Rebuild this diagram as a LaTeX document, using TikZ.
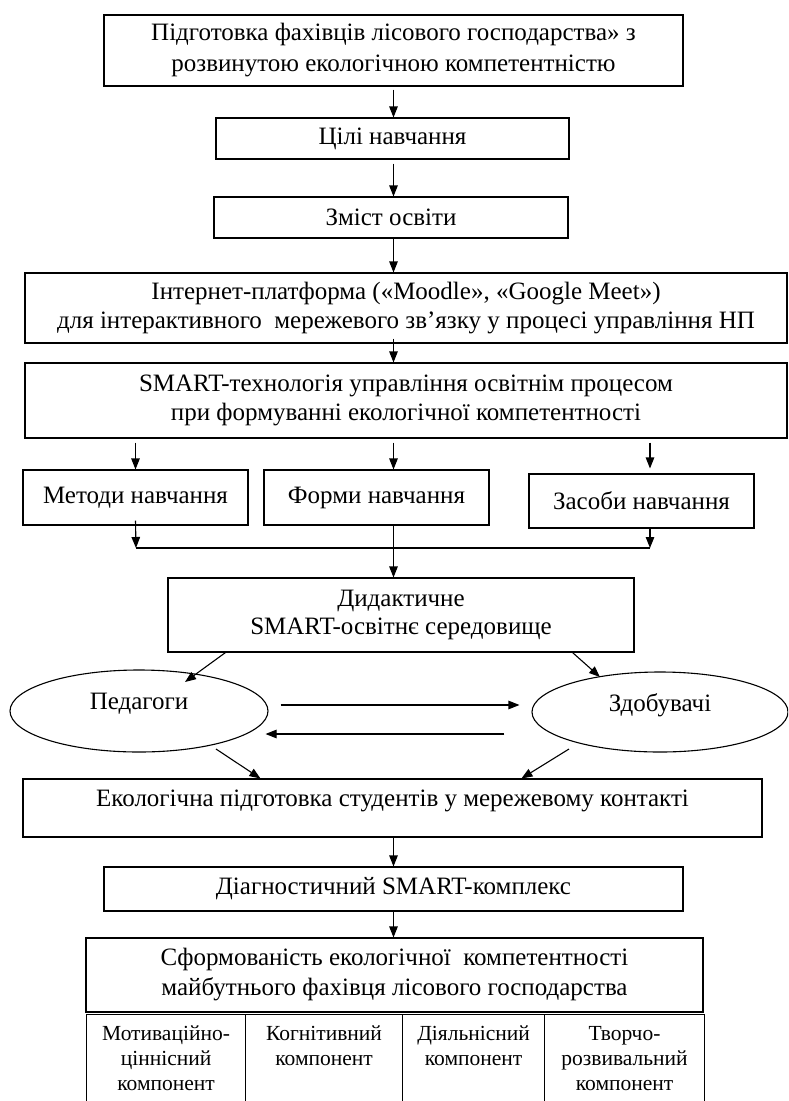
\documentclass[tikz,border=0pt]{standalone}
\usepackage{fontspec}
\setmainfont{Liberation Serif}
\usetikzlibrary{arrows.meta,calc,shapes.geometric}
\begin{document}
\begin{tikzpicture}[x=1pt,y=-1pt,
  box/.style={draw, line width=1.1pt, align=center, inner sep=0pt, font=\fontsize{25}{28.5}\selectfont},
  oval/.style={draw, ellipse, line width=1.1pt, inner sep=0pt},
  lbl/.style={font=\fontsize{25}{29}\selectfont, inner sep=0pt},
  cell/.style={draw, line width=1.1pt, inner sep=0pt, anchor=north west},
  celltext/.style={align=center, inner sep=0pt, anchor=north, font=\fontsize{21.5}{25}\selectfont},
  arr/.style={-{Triangle[length=11pt,width=8.5pt]}, line width=1.1pt}]
\useasboundingbox (0,0) rectangle (788,1101);
\clip (0,0) rectangle (788,1101);

\node[box, minimum width=579pt, minimum height=71pt, font=\fontsize{25}{31}\selectfont] (b1) at (393.5,50.5)
  {Підготовка фахівців лісового господарства» з\\розвинутою екологічною компетентністю};
\node[box, minimum width=353pt, minimum height=41pt] (b2) at (392.5,138.5) {Цілі навчання};
\node[box, minimum width=354pt, minimum height=41pt] (b3) at (391,217.5) {Зміст освіти};
\node[box, minimum width=762pt, minimum height=70pt] (b4) at (406,308)
  {Інтернет-платформа («Moodle», «Google Meet»)\\для інтерактивного\ \ мережевого зв’язку у процесі управління НП};
\node[box, minimum width=762pt, minimum height=75pt] (b5) at (406,400.5)
  {SMART-технологія управління освітнім процесом\\при формуванні екологічної компетентності};
\node[box, minimum width=225pt, minimum height=55pt] (m) at (135.5,497.5) {Методи навчання};
\node[box, minimum width=225pt, minimum height=55pt] (f) at (376.5,497.5) {Форми навчання};
\node[box, minimum width=225pt, minimum height=54pt] (z) at (641.5,501) {Засоби навчання};
\node[box, minimum width=466pt, minimum height=74pt] (d) at (401,615)
  {Дидактичне\\SMART-освітнє середовище};
\node[oval, minimum width=258pt, minimum height=82pt] (ped) at (139,711) {};
\node[lbl] at ([yshift=7pt]ped.center) {Педагоги};
\node[oval, minimum width=256pt, minimum height=80pt] (zd) at (660,712) {};
\node[lbl] at ([yshift=7pt]zd.center) {Здобувачі};
\node[box, minimum width=739pt, minimum height=58pt, text depth=19pt] (e) at (392.5,808)
  {Екологічна підготовка студентів у мережевому контакті};
\node[box, minimum width=579pt, minimum height=44pt] (dg) at (393.5,889) {Діагностичний SMART-комплекс};
\node[box, minimum width=617pt, minimum height=74pt, font=\fontsize{25}{30}\selectfont] (s) at (394.5,975)
  {Сформованість екологічної\ \ компетентності\\майбутнього фахівця лісового господарства};

\node[cell, minimum width=159pt, minimum height=100pt] (c1) at (86,1014) {};
\node[cell, minimum width=157pt, minimum height=100pt] (c2) at (245,1014) {};
\node[cell, minimum width=142pt, minimum height=100pt] (c3) at (402,1014) {};
\node[cell, minimum width=160pt, minimum height=100pt] (c4) at (544,1014) {};
\node[celltext] at ([yshift=-12pt]c1.north) {Мотиваційно-\\ціннісний\\компонент};
\node[celltext] at ([yshift=-12pt]c2.north) {Когнітивний\\компонент};
\node[celltext] at ([yshift=-12pt]c3.north) {Діяльнісний\\компонент};
\node[celltext] at ([yshift=-12pt]c4.north) {Творчо-\\розвивальний\\компонент};

% vertical chain
\draw[arr] ([yshift=-3pt]b1.south) -- (b1.south |- b2.north);
\draw[arr] ([yshift=-4pt]b2.south -| b1.south) -- (b1.south |- b3.north);
\draw[arr] (b3.south -| b1.south) -- (b1.south |- b4.north);
\draw[arr] ([yshift=5pt]b4.south -| b1.south) -- (b1.south |- b5.north);
\coordinate (jl) at (136,548);
\coordinate (jr) at (650,548);
\draw[arr] ([yshift=-4pt]b5.south -| m.north) -- (m.north);
\draw[arr] ([yshift=-4pt]b5.south -| b1.south) -- (b1.south |- f.north);
\draw[arr] ([yshift=-4pt]b5.south -| jr) -- ([yshift=5pt]jr |- z.north);
\draw[arr] ([yshift=5pt]m.south) -- (jl);
\draw[arr] (jr |- z.south) -- (jr);
\draw[line width=1.1pt] (jl) -- (jr);
\draw[arr] (f.south -| b1.south) -- (b1.south |- d.north);
% to ellipses
\coordinate (pin) at (185,682);
\coordinate (zin) at (600,677);
\draw[arr] ([xshift=58pt]d.south west) -- (pin);
\draw[arr] ([xshift=-62pt]d.south east) -- (zin);
\draw[arr] ([xshift=12pt,yshift=6pt]ped.east) -- ([xshift=-12pt,yshift=7pt]zd.west);
\draw[arr] ([xshift=-27pt,yshift=-22pt]zd.west) -- ([xshift=-3pt,yshift=-23pt]ped.east);
\draw[arr] ($(ped.center)+(77,38)$) -- ([xshift=238pt]e.north west);
\draw[arr] ($(zd.center)+(-91,37)$) -- ([xshift=499pt]e.north west);
\draw[arr] (e.south -| b1.south) -- (dg.north);
\draw[arr] (dg.south) -- (dg.south |- s.north);
\end{tikzpicture}
\end{document}
